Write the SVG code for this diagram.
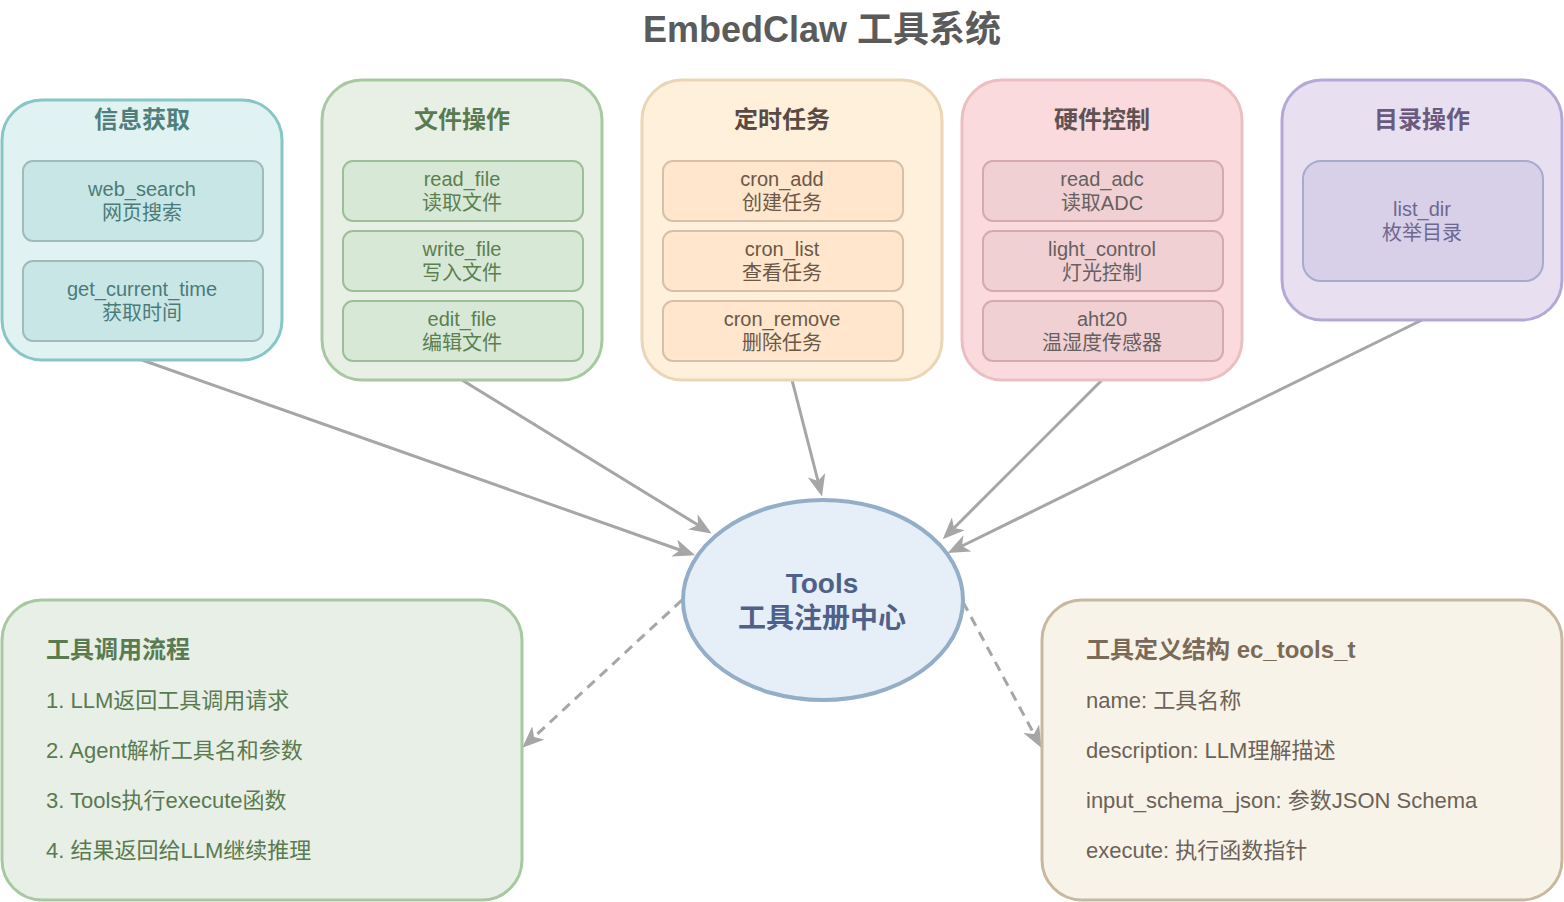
<svg xmlns="http://www.w3.org/2000/svg" width="1564" height="902" viewBox="0 0 1564 902">
<defs>
<style>
text{font-family:"Liberation Sans","Noto Sans CJK SC",sans-serif;}
.title{font-size:36px;font-weight:bold;fill:#5b5b5b;text-anchor:middle;}
.gt{font-size:24px;font-weight:bold;text-anchor:middle;}
.it{font-size:20px;text-anchor:middle;}
.grp{stroke-width:3;}
.inner{stroke-width:2;}
.bt{font-size:24px;font-weight:bold;}
.bi{font-size:22px;}
.conn{stroke:#a6a6a6;stroke-width:3;fill:none;marker-end:url(#arr);}
.dash{stroke-dasharray:10 7;stroke-width:3.5;}
</style>
<marker id="arr" viewBox="0 0 22 18" refX="6" refY="9" markerWidth="22" markerHeight="18" markerUnits="userSpaceOnUse" orient="auto">
<path d="M0,0 L22,9 L0,18 L6,9 Z" fill="#a6a6a6"/>
</marker>
</defs>
<rect width="1564" height="902" fill="#ffffff"/>
<text class="title" x="822" y="42">EmbedClaw 工具系统</text>

<g id="connectors">
<line class="conn" x1="142" y1="360" x2="680" y2="550"/>
<line class="conn" x1="462" y1="380" x2="698" y2="525"/>
<line class="conn" x1="792" y1="380" x2="818" y2="481"/>
<line class="conn" x1="1102" y1="380" x2="954" y2="528"/>
<line class="conn" x1="1422" y1="320" x2="962" y2="546"/>
<line class="conn" style="stroke-dasharray:10 7" x1="682" y1="600" x2="534" y2="737"/>
<line class="conn" style="stroke-dasharray:10 7" x1="963" y1="602" x2="1034" y2="734"/>
</g>

<g id="info">
<rect class="grp" x="2" y="100" width="280" height="260" rx="40" fill="#e0f2f1" stroke="#88c6c6"/>
<text class="gt" x="142" y="128" fill="#4f7f7c">信息获取</text>
<rect class="inner" x="23" y="161" width="240" height="80" rx="10" fill="#c8e6e5" stroke="#9fbcbb"/>
<text class="it" x="142" y="196" fill="#4b7b79">web_search</text>
<text class="it" x="142" y="220" fill="#4b7b79">网页搜索</text>
<rect class="inner" x="23" y="261" width="240" height="80" rx="10" fill="#c8e6e5" stroke="#9fbcbb"/>
<text class="it" x="142" y="296" fill="#4b7b79">get_current_time</text>
<text class="it" x="142" y="320" fill="#4b7b79">获取时间</text>
</g>

<g id="file">
<rect class="grp" x="322" y="80" width="280" height="300" rx="40" fill="#e8f0e6" stroke="#a8c8a2"/>
<text class="gt" x="462" y="128" fill="#5a7a50">文件操作</text>
<rect class="inner" x="343" y="161" width="240" height="60" rx="10" fill="#d8e8d6" stroke="#9dbf97"/>
<text class="it" x="462" y="186" fill="#5a8050">read_file</text>
<text class="it" x="462" y="210" fill="#5a8050">读取文件</text>
<rect class="inner" x="343" y="231" width="240" height="60" rx="10" fill="#d8e8d6" stroke="#9dbf97"/>
<text class="it" x="462" y="256" fill="#5a8050">write_file</text>
<text class="it" x="462" y="280" fill="#5a8050">写入文件</text>
<rect class="inner" x="343" y="301" width="240" height="60" rx="10" fill="#d8e8d6" stroke="#9dbf97"/>
<text class="it" x="462" y="326" fill="#5a8050">edit_file</text>
<text class="it" x="462" y="350" fill="#5a8050">编辑文件</text>
</g>

<g id="cron">
<rect class="grp" x="642" y="80" width="300" height="300" rx="40" fill="#fff0dc" stroke="#ead6b6"/>
<text class="gt" x="782" y="128" fill="#5a4a44">定时任务</text>
<rect class="inner" x="663" y="161" width="240" height="60" rx="10" fill="#ffe6cc" stroke="#d6c0aa"/>
<text class="it" x="782" y="186" fill="#6a5848">cron_add</text>
<text class="it" x="782" y="210" fill="#6a5848">创建任务</text>
<rect class="inner" x="663" y="231" width="240" height="60" rx="10" fill="#ffe6cc" stroke="#d6c0aa"/>
<text class="it" x="782" y="256" fill="#6a5848">cron_list</text>
<text class="it" x="782" y="280" fill="#6a5848">查看任务</text>
<rect class="inner" x="663" y="301" width="240" height="60" rx="10" fill="#ffe6cc" stroke="#d6c0aa"/>
<text class="it" x="782" y="326" fill="#6a5848">cron_remove</text>
<text class="it" x="782" y="350" fill="#6a5848">删除任务</text>
</g>

<g id="hw">
<rect class="grp" x="962" y="80" width="280" height="300" rx="40" fill="#fadadd" stroke="#ebbfc2"/>
<text class="gt" x="1102" y="128" fill="#5f5252">硬件控制</text>
<rect class="inner" x="983" y="161" width="240" height="60" rx="10" fill="#f0d0d3" stroke="#d5aaae"/>
<text class="it" x="1102" y="186" fill="#666060">read_adc</text>
<text class="it" x="1102" y="210" fill="#666060">读取ADC</text>
<rect class="inner" x="983" y="231" width="240" height="60" rx="10" fill="#f0d0d3" stroke="#d5aaae"/>
<text class="it" x="1102" y="256" fill="#666060">light_control</text>
<text class="it" x="1102" y="280" fill="#666060">灯光控制</text>
<rect class="inner" x="983" y="301" width="240" height="60" rx="10" fill="#f0d0d3" stroke="#d5aaae"/>
<text class="it" x="1102" y="326" fill="#666060">aht20</text>
<text class="it" x="1102" y="350" fill="#666060">温湿度传感器</text>
</g>

<g id="dir">
<rect class="grp" x="1282" y="80" width="280" height="240" rx="40" fill="#e8e0f0" stroke="#b6a8d6"/>
<text class="gt" x="1422" y="128" fill="#6a5a80">目录操作</text>
<rect class="inner" x="1303" y="161" width="240" height="120" rx="18" fill="#d8d0e8" stroke="#a8aacc"/>
<text class="it" x="1422" y="216" fill="#6e6890">list_dir</text>
<text class="it" x="1422" y="240" fill="#6e6890">枚举目录</text>
</g>

<g id="tools">
<ellipse cx="823" cy="600" rx="140" ry="100" fill="#e6eff8" stroke="#95aec8" stroke-width="4"/>
<text x="822" y="593" font-size="28" font-weight="bold" fill="#4f6189" text-anchor="middle">Tools</text>
<text x="822" y="628" font-size="28" font-weight="bold" fill="#4f6189" text-anchor="middle">工具注册中心</text>
</g>

<g id="flow">
<rect class="grp" x="2" y="600" width="520" height="300" rx="40" fill="#e8efe6" stroke="#a8c8a2"/>
<text class="bt" x="46" y="658" fill="#5a7a50">工具调用流程</text>
<text class="bi" x="46" y="708" fill="#5a7a50">1. LLM返回工具调用请求</text>
<text class="bi" x="46" y="758" fill="#5a7a50">2. Agent解析工具名和参数</text>
<text class="bi" x="46" y="808" fill="#5a7a50">3. Tools执行execute函数</text>
<text class="bi" x="46" y="858" fill="#5a7a50">4. 结果返回给LLM继续推理</text>
</g>

<g id="struct">
<rect class="grp" x="1042" y="600" width="520" height="300" rx="40" fill="#f8f3e8" stroke="#c8b8a0"/>
<text class="bt" x="1086" y="658" fill="#7a6a58">工具定义结构 ec_tools_t</text>
<text class="bi" x="1086" y="708" fill="#6b6258">name: 工具名称</text>
<text class="bi" x="1086" y="758" fill="#6b6258">description: LLM理解描述</text>
<text class="bi" x="1086" y="808" fill="#6b6258">input_schema_json: 参数JSON Schema</text>
<text class="bi" x="1086" y="858" fill="#6b6258">execute: 执行函数指针</text>
</g>
</svg>
